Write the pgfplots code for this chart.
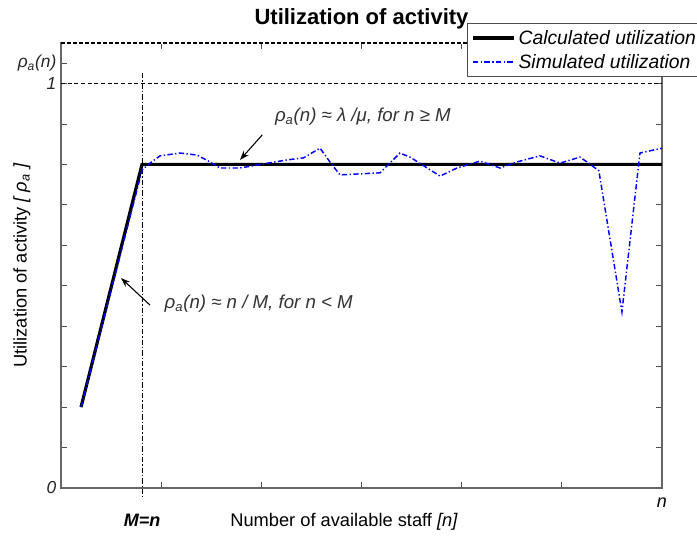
\documentclass[border=0pt]{standalone}
\usepackage{pgfplots}
\pgfplotsset{compat=1.18}
\usepackage{fontspec}
\setmainfont{Liberation Sans}
\usetikzlibrary{calc,arrows.meta}

\pgfplotstableread{
x y
0.20 0.200
0.759 0.737
0.809 0.786
0.888 0.803
0.988 0.821
1.188 0.828
1.358 0.823
1.487 0.806
1.587 0.791
1.787 0.791
2.017 0.801
2.256 0.811
2.420 0.816
2.586 0.840
2.685 0.806
2.785 0.774
3.185 0.779
3.384 0.828
3.484 0.818
3.784 0.771
3.953 0.791
4.183 0.808
4.383 0.791
4.552 0.806
4.782 0.821
4.982 0.803
5.181 0.818
5.251 0.806
5.370 0.784
5.600 0.435
5.780 0.828
6.000 0.840
}\simdata

\pgfplotstableread{
x y
0.20 0.20
0.809 0.80
6.00 0.80
}\calcdata

\begin{document}
\begin{tikzpicture}
\begin{axis}[
  name=ax, at={(0,0)}, anchor=south west,
  scale only axis, width=450.75pt, height=333.75pt,
  xmin=0, xmax=6, ymin=0, ymax=1.1,
  clip=false,
  xtick={1,2,3,4,5}, xticklabels={},
  ytick={0,0.1,0.2,0.3,0.4,0.5,0.6,0.7,0.8,0.9,1.0,1.05},
  yticklabels={\textit{0},,,,,,,,,,\textit{1},\textit{ρ}\textsubscript{\textit{a}}\textit{(n)}},
  yticklabel style={font=\fontsize{13}{15}\selectfont, text=black!85},
  axis line style={black!60, line width=0.8pt},
  major tick length=4.5pt,
  tick style={black!70, line width=0.6pt},
  every axis title shift=0pt,
  title={Utilization of activity},
  title style={at={(axis description cs:0.5,1.054)}, anchor=center, font=\fontsize{16.5}{19}\selectfont\bfseries},
  xlabel={Number of available staff \textit{[n]}},
  xlabel style={at={(axis description cs:0.471,-0.076)}, anchor=center, font=\fontsize{13.7}{16}\selectfont},
  ylabel={Utilization of activity \textit{[ ρ\textsubscript{a} ]}},
  ylabel style={at={(axis description cs:-0.065,0.5)}, anchor=center, font=\fontsize{13.7}{16}\selectfont},
  legend cell align=left,
  legend style={at={(axis cs:4.053,1.1496)}, anchor=north west, draw=black!70, line width=0.6pt,
    font=\fontsize{14.5}{17}\selectfont\itshape, inner xsep=3pt, inner ysep=3pt, row sep=2pt},
  legend image code/.code={\draw[#1] (0pt,0pt) -- (31pt,0pt);},
]
\draw[white, line width=1.4pt] (axis cs:0,1.1) -- (axis cs:6,1.1);
\draw[black, line width=0.8pt, dash pattern=on 3pt off 1.5pt] (axis cs:0,1.1) -- (axis cs:6,1.1);
\addplot[black, line width=0.6pt, dash pattern=on 3pt off 2pt, forget plot] coordinates {(0,1) (6,1)};
\addplot[black, line width=0.8pt, dash pattern=on 4pt off 1.5pt on 1pt off 1.5pt, forget plot] coordinates {(0.809,1.026) (0.809,-0.022)};
\addplot[black, line width=2.4pt] table[x=x,y=y] {\calcdata};
\addlegendentry{Calculated utilization}
\addplot[blue, line width=1.1pt, dash pattern=on 4pt off 1.8pt on 1pt off 1.8pt] table[x=x,y=y] {\simdata};
\addlegendentry{Simulated utilization}
\draw[black, line width=0.8pt, -{Stealth[length=7pt,width=5pt]}] (axis cs:2.01,0.873) -- (axis cs:1.787,0.811);
\draw[black, line width=0.8pt, -{Stealth[length=7pt,width=5pt]}] (axis cs:0.889,0.452) -- (axis cs:0.599,0.519);
\node[anchor=west, font=\fontsize{14}{16}\selectfont\itshape, text=black!80] at (axis cs:2.09,0.917) {ρ\textsubscript{a}(n) ≈ λ /μ, for n ≥ M};
\node[anchor=west, font=\fontsize{14}{16}\selectfont\itshape, text=black!80] at (axis cs:0.988,0.455) {ρ\textsubscript{a}(n) ≈ n / M, for n < M};
\node[font=\fontsize{13.5}{16}\selectfont\bfseries\itshape] at (axis cs:0.809,-0.079) {M=n};
\node[font=\fontsize{13.5}{16}\selectfont\itshape] at (axis cs:6.0,-0.037) {n};
\end{axis}
\pgfresetboundingbox
\path[use as bounding box] ($(ax.south west)+(-45.75pt,-36.75pt)$) rectangle ($(ax.south west)+(477pt,366pt)$);
\end{tikzpicture}
\end{document}
